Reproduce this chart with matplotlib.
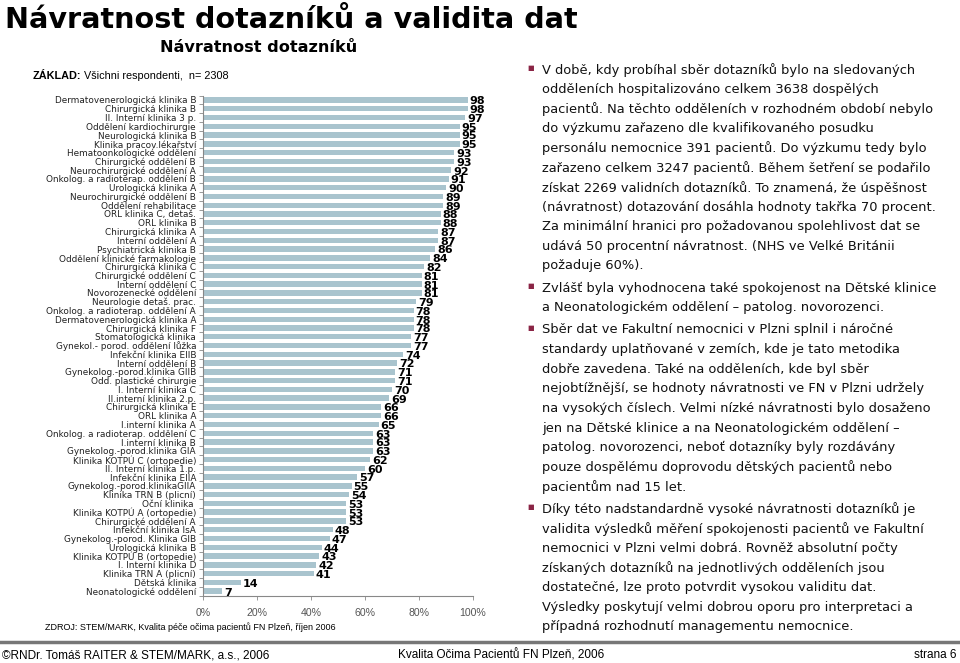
import matplotlib.pyplot as plt
from matplotlib.lines import Line2D

# Data
departments = [
    'Dermatovenerologická klinika B', 'Chirurgická klinika B', 'II. Interní klinika 3 p.',
    'Oddělení kardiochirurgie', 'Neurologická klinika B', 'Klinika pracov.lékařství',
    'Hematoonkologické oddělení', 'Chirurgické oddělení B', 'Neurochirurgické oddělení A',
    'Onkolog. a radioterap. oddělení B', 'Urologická klinika A', 'Neurochirurgické oddělení B',
    'Oddělení rehabilitace', 'ORL klinika C, detaš.', 'ORL klinika B',
    'Chirurgická klinika A', 'Interní oddělení A', 'Psychiatrická klinika B',
    'Oddělení klinické farmakologie', 'Chirurgická klinika C', 'Chirurgické oddělení C',
    'Interní oddělení C', 'Novorozenecké oddělení', 'Neurologie detaš. prac.',
    'Onkolog. a radioterap. oddělení A', 'Dermatovenerologická klinika A', 'Chirurgická klinika F',
    'Stomatologická klinika', 'Gynekol.- porod. oddělení lůžka', 'Infekční klinika EIIB',
    'Interní oddělení B', 'Gynekolog.-porod.klinika GIIB', 'Odd. plastické chirurgie',
    'I. Interní klinika C', 'II.interní klinika 2.p.', 'Chirurgická klinika E',
    'ORL klinika A', 'I.interní klinika A', 'Onkolog. a radioterap. oddělení C',
    'I.interní klinika B', 'Gynekolog.-porod.klinika GIA', 'Klinika KOTPÚ C (ortopedie)',
    'II. Interní klinika 1.p.', 'Infekční klinika EIIA', 'Gynekolog.-porod.klinikaGIIA',
    'Klinika TRN B (plicní)', 'Oční klinika ', 'Klinika KOTPÚ A (ortopedie)',
    'Chirurgické oddělení A', 'Infekční klinika IsA', 'Gynekolog.-porod. Klinika GIB',
    'Urologická klinika B', 'Klinika KOTPÚ B (ortopedie)', 'I. Interní klinika D',
    'Klinika TRN A (plicní)', 'Dětská klinika', 'Neonatologické oddělení',
]
return_rate = [
    98, 98, 97, 95, 95, 95, 93, 93, 92, 91, 90, 89, 89, 88, 88, 87, 87, 86, 84,
    82, 81, 81, 81, 79, 78, 78, 78, 77, 77, 74, 72, 71, 71, 70, 69, 66, 66, 65,
    63, 63, 63, 62, 60, 57, 55, 54, 53, 53, 53, 48, 47, 44, 43, 42, 41, 14, 7,
]
x_ticks = [0, 20, 40, 60, 80, 100]

paragraphs = [
    ['V době, kdy probíhal sběr dotazníků bylo na sledovaných',
     'odděleních hospitalizováno celkem 3638 dospělých',
     'pacientů. Na těchto odděleních v rozhodném období nebylo',
     'do výzkumu zařazeno dle kvalifikovaného posudku',
     'personálu nemocnice 391 pacientů. Do výzkumu tedy bylo',
     'zařazeno celkem 3247 pacientů. Během šetření se podařilo',
     'získat 2269 validních dotazníků. To znamená, že úspěšnost',
     '(návratnost) dotazování dosáhla hodnoty takřka 70 procent.',
     'Za minimální hranici pro požadovanou spolehlivost dat se',
     'udává 50 procentní návratnost. (NHS ve Velké Británii',
     'požaduje 60%).'],
    ['Zvlášť byla vyhodnocena také spokojenost na Dětské klinice',
     'a Neonatologickém oddělení – patolog. novorozenci.'],
    ['Sběr dat ve Fakultní nemocnici v Plzni splnil i náročné',
     'standardy uplatňované v zemích, kde je tato metodika',
     'dobře zavedena. Také na odděleních, kde byl sběr',
     'nejobtížnější, se hodnoty návratnosti ve FN v Plzni udržely',
     'na vysokých číslech. Velmi nízké návratnosti bylo dosaženo',
     'jen na Dětské klinice a na Neonatologickém oddělení –',
     'patolog. novorozenci, neboť dotazníky byly rozdávány',
     'pouze dospělému doprovodu dětských pacientů nebo',
     'pacientům nad 15 let.'],
    ['Díky této nadstandardně vysoké návratnosti dotazníků je',
     'validita výsledků měření spokojenosti pacientů ve Fakultní',
     'nemocnici v Plzni velmi dobrá. Rovněž absolutní počty',
     'získaných dotazníků na jednotlivých odděleních jsou',
     'dostatečné, lze proto potvrdit vysokou validitu dat.',
     'Výsledky poskytují velmi dobrou oporu pro interpretaci a',
     'případná rozhodnutí managementu nemocnice.'],
]

W, H = 960, 663
fig = plt.figure(figsize=(W / 100, H / 100), dpi=100)


def fy(py):
    return 1 - py / H


def fx(px):
    return px / W


ax = fig.add_axes([fx(203), fy(595.5), fx(473) - fx(203), fy(95.6) - fy(595.5)])
ypos = list(range(len(departments)))
ax.barh(ypos, return_rate, height=0.62, color='#a9c4ce')
for y, v in zip(ypos, return_rate):
    ax.annotate(str(v), (v, y), xytext=(1.5, -1), textcoords='offset points',
                va='center', ha='left', fontsize=8, fontweight='bold', color='black')

ax.set_xlim(0, 100)
ax.set_ylim(len(departments) - 0.5, -0.5)
ax.set_yticks(ypos)
ax.set_yticklabels(departments, fontsize=6.4, color='#222222')
ax.set_yticks([i - 0.5 for i in range(len(departments) + 1)], minor=True)
ax.tick_params(axis='y', which='major', length=0, pad=5)
ax.tick_params(axis='y', which='minor', length=3, color='#888888', width=0.6)
ax.set_xticks(x_ticks)
ax.set_xticklabels([f'{t}%' for t in x_ticks], fontsize=7.6, color='#555555',
                   family='Liberation Sans')
ax.tick_params(axis='x', length=3, color='#888888', width=0.6, pad=6)
for s in ['top', 'right']:
    ax.spines[s].set_visible(False)
for s in ['left', 'bottom']:
    ax.spines[s].set_color('#888888')
    ax.spines[s].set_linewidth(0.8)

# headings
fig.text(fx(5), fy(28), 'Návratnost dotazníků a validita dat', fontsize=20.6,
         fontweight='bold', va='baseline', ha='left')
fig.text(fx(259), fy(48), 'Návratnost dotazníků', fontsize=11.6, fontweight='bold',
         va='center', ha='center')
zk = fig.text(fx(33), fy(76), 'ZÁKLAD:', fontsize=7.8, fontweight='bold', va='center',
              ha='left', family='Liberation Sans')
fig.canvas.draw()
bb = zk.get_window_extent(renderer=fig.canvas.get_renderer())
fig.text(fx(bb.x1 + 3), fy(76), 'Všichni respondenti,  n= 2308', fontsize=7.8,
         va='center', ha='left', family='Liberation Sans')
fig.text(fx(45), fy(627), 'ZDROJ: STEM/MARK, Kvalita péče očima pacientů FN Plzeň, říjen 2006',
         fontsize=6.5, va='center', ha='left', family='Liberation Sans')

# right hand text
y = 70
for para in paragraphs:
    fig.text(fx(527), fy(y - 2), '■', fontsize=5, color='#8a2445', va='center', ha='left')
    for line in para:
        fig.text(fx(542), fy(y), line, fontsize=9.4, va='center', ha='left', color='#111111')
        y += 19.6
    y += 2.6

# footer
fig.add_artist(Line2D([0, 1], [fy(642), fy(642)], color='#777777', lw=2.5))
fig.text(fx(2), fy(655), '©RNDr. Tomáš RAITER & STEM/MARK, a.s., 2006', fontsize=8.5,
         va='center', ha='left', family='Liberation Sans')
fig.text(fx(398), fy(655), 'Kvalita Očima Pacientů FN Plzeň, 2006', fontsize=8.5,
         va='center', ha='left', family='Liberation Sans')
fig.text(fx(957), fy(655), 'strana 6', fontsize=8.5, va='center', ha='right',
         family='Liberation Sans')

fig.savefig('out.png', dpi=100)
